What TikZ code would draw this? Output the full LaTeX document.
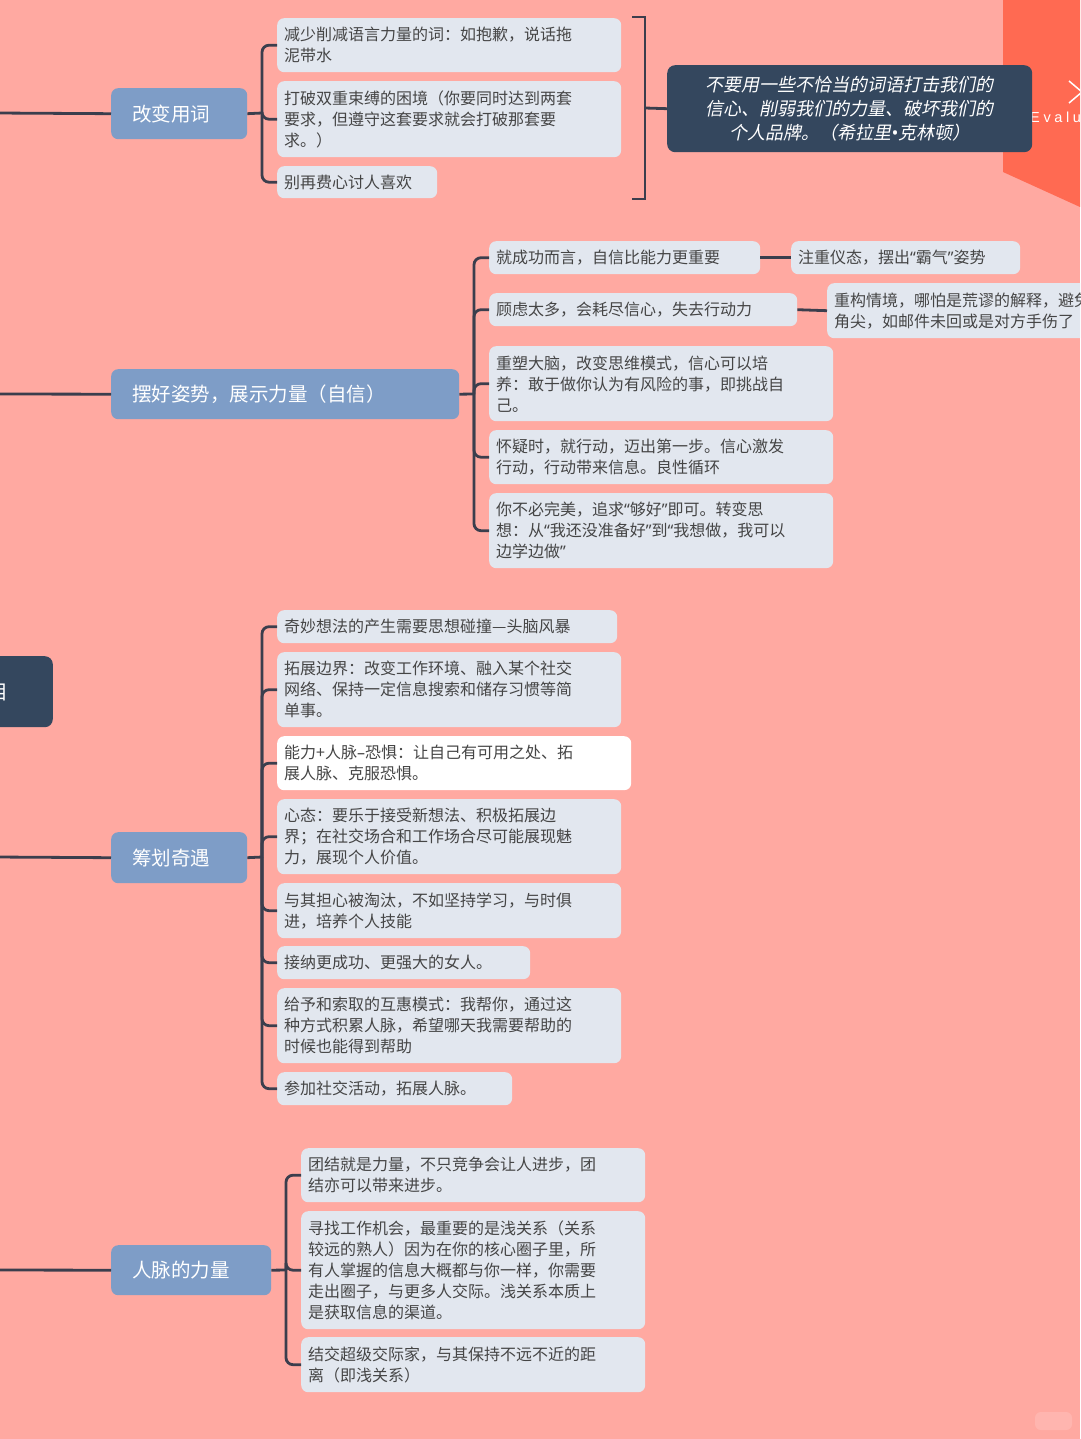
\documentclass[tikz,border=0pt]{standalone}
\usepackage{fontspec}
\setmainfont{Noto Sans CJK SC}
\newfontfamily\cjkit[FakeSlant=0.2]{Noto Sans CJK SC}
\newfontfamily\wmfont[LetterSpace=25]{Liberation Sans}
\newfontfamily\qfont{Noto Sans}
\newcommand{\oq}{{\qfont “}}
\newcommand{\cq}{{\qfont ”}}
\newcommand{\bdot}{{\qfont •}}
\definecolor{bgc}{HTML}{FFA9A1}
\definecolor{orc}{HTML}{FF6A52}
\definecolor{leafc}{HTML}{E2E7EF}
\definecolor{leaft}{HTML}{454545}
\definecolor{mainc}{HTML}{7E9DC7}
\definecolor{darkc}{HTML}{34475E}
\definecolor{linec}{HTML}{3B3E4D}
\tikzset{
  leaf/.style={fill=leafc, rounded corners=7pt, anchor=north west, align=left,
    inner xsep=7pt, inner ysep=3pt, text=leaft, font=\fontsize{16}{21}\selectfont},
  topic/.style={fill=mainc, rounded corners=7pt, anchor=north west, align=left,
    inner xsep=21pt, inner ysep=3pt, text=white, font=\fontsize{19.5}{24}\selectfont},
  conn/.style={draw=linec, line width=2.8pt, rounded corners=7pt},
}
\begin{document}
\begin{tikzpicture}[x=1pt,y=-1pt]
\path[use as bounding box] (0,0) rectangle (1080,1439);
\clip (0,0) rectangle (1080,1439);
\fill[bgc] (0,0) rectangle (1080,1439);
% top-right decoration
\fill[orc] (1003,0) -- (1080,0) -- (1080,207) -- (1003,172) -- cycle;
\draw[white, line width=1.5pt] (1069,81) -- (1095,103) (1069,103) -- (1095,81);
\node[anchor=base west, inner sep=0pt, text=white, font=\wmfont\fontsize{14.5}{16}\selectfont] (wm) at (1030,123) {Evaluation};
% faint badge bottom right
\fill[white, opacity=0.15, rounded corners=6pt] (1035,1412) rectangle (1072,1430);

% central node (clipped)
\node[fill=darkc, rounded corners=8pt, minimum width=160pt, minimum height=71pt, anchor=north east, inner sep=0pt] (center) at (53,656) {};
\node[text=white, font=\fontsize{20}{24}\selectfont, inner sep=0pt] (centertext) at (-2,692) {目};

% topics
\node[topic, text width=94pt, minimum height=51pt] (m1) at (111,88) {改变用词};
\node[topic, text width=306pt, minimum height=50pt] (m2) at (111,369) {摆好姿势，展示力量（自信）};
\node[topic, text width=94pt, minimum height=51pt] (m3) at (111,832) {筹划奇遇};
\node[topic, text width=118pt, minimum height=50pt] (m4) at (111,1245) {人脉的力量};

\coordinate (s1) at (-5,113);
\coordinate (s2) at (-5,394);
\coordinate (s3) at (-5,857);
\coordinate (s4) at (-5,1270);
\draw[conn] (s1) -- (m1.west);
\draw[conn] (s2) -- (m2.west);
\draw[conn] (s3) -- (m3.west);
\draw[conn] (s4) -- (m4.west);

% group 1
\node[leaf, text width=330pt, minimum height=54pt] (l1) at (277,18) {减少削减语言力量的词：如抱歉，说话拖\\泥带水};
\node[leaf, text width=330pt, minimum height=76pt] (l2) at (277,81) {打破双重束缚的困境（你要同时达到两套\\要求，但遵守这套要求就会打破那套要\\求。）};
\node[leaf, text width=146pt, minimum height=32pt] (l3) at (277,166) {别再费心讨人喜欢};
\coordinate (t1) at (262,113);
\draw[conn] (m1.east) -- (t1);
\draw[conn] (t1) |- (l1.west);
\draw[conn] (t1) |- (l2.west);
\draw[conn] (t1) |- (l3.west);

% summary bracket and quote
\coordinate (b1a) at (632,17);
\coordinate (b1b) at (645,17);
\coordinate (b1c) at (645,199);
\coordinate (b1d) at (632,199);
\coordinate (b1m) at (645,108);
\draw[draw=linec, line width=2.8pt] (b1a) -- (b1b) -- (b1c) -- (b1d);
\node[fill=darkc, rounded corners=8pt, anchor=north west, minimum width=365pt, minimum height=87pt,
  text width=335pt, align=center, inner xsep=15pt, inner ysep=3pt, text=white,
  font=\cjkit\fontsize{18}{24}\selectfont] (q) at (667,65)
  {不要用一些不恰当的词语打击我们的\\信心、削弱我们的力量、破坏我们的\\个人品牌。（希拉里{\qfont\itshape •}克林顿）};
\draw[draw=linec, line width=2.8pt] (b1m) -- (q.west);

% group 2
\node[leaf, text width=257pt, minimum height=33pt] (a1) at (489,241) {就成功而言，自信比能力更重要};
\node[leaf, text width=215pt, minimum height=33pt] (a1b) at (791,241) {注重仪态，摆出\oq 霸气\cq 姿势};
\node[leaf, text width=294pt, minimum height=33pt] (a2) at (489,293) {顾虑太多，会耗尽信心，失去行动力};
\node[leaf, text width=330pt, minimum height=55pt] (a2b) at (827,283) {重构情境，哪怕是荒谬的解释，避免钻牛\\角尖，如邮件未回或是对方手伤了};
\node[leaf, text width=330pt, minimum height=75pt] (a3) at (489,346) {重塑大脑，改变思维模式，信心可以培\\养：敢于做你认为有风险的事，即挑战自\\己。};
\node[leaf, text width=330pt, minimum height=54pt] (a4) at (489,430) {怀疑时，就行动，迈出第一步。信心激发\\行动，行动带来信息。良性循环};
\node[leaf, text width=330pt, minimum height=75pt] (a5) at (489,493) {你不必完美，追求\oq 够好\cq 即可。转变思\\想：从\oq 我还没准备好\cq 到\oq 我想做，我可以\\边学边做\cq};
\coordinate (t2) at (474,394);
\draw[conn] (m2.east) -- (t2);
\draw[conn] (t2) |- (a1.west);
\draw[conn] (t2) |- (a2.west);
\draw[conn] (t2) |- (a3.west);
\draw[conn] (t2) |- (a4.west);
\draw[conn] (t2) |- (a5.west);
\draw[conn] (a1.east) -- (a1b.west);
\draw[conn] (a2.east) -- (a2b.west);

% group 3
\node[leaf, text width=326pt, minimum height=33pt] (b1) at (277,610) {奇妙想法的产生需要思想碰撞—头脑风暴};
\node[leaf, text width=330pt, minimum height=75pt] (b2) at (277,652) {拓展边界：改变工作环境、融入某个社交\\网络、保持一定信息搜索和储存习惯等简\\单事。};
\node[leaf, fill=white, text width=340pt, minimum height=54pt] (b3) at (277,736) {能力+人脉{\qfont –}恐惧：让自己有可用之处、拓\\展人脉、克服恐惧。};
\node[leaf, text width=330pt, minimum height=75pt] (b4) at (277,799) {心态：要乐于接受新想法、积极拓展边\\界；在社交场合和工作场合尽可能展现魅\\力，展现个人价值。};
\node[leaf, text width=330pt, minimum height=55pt] (b5) at (277,883) {与其担心被淘汰，不如坚持学习，与时俱\\进，培养个人技能};
\node[leaf, text width=239pt, minimum height=33pt] (b6) at (277,946) {接纳更成功、更强大的女人。};
\node[leaf, text width=330pt, minimum height=75pt] (b7) at (277,988) {给予和索取的互惠模式：我帮你，通过这\\种方式积累人脉，希望哪天我需要帮助的\\时候也能得到帮助};
\node[leaf, text width=221pt, minimum height=33pt] (b8) at (277,1072) {参加社交活动，拓展人脉。};
\coordinate (t3) at (262,857);
\draw[conn] (m3.east) -- (t3);
\foreach \n in {b1,b2,b3,b4,b5,b6,b7,b8} { \draw[conn] (t3) |- (\n.west); }

% group 4
\node[leaf, text width=330pt, minimum height=54pt] (c1) at (301,1148) {团结就是力量，不只竞争会让人进步，团\\结亦可以带来进步。};
\node[leaf, text width=330pt, minimum height=118pt] (c2) at (301,1211) {寻找工作机会，最重要的是浅关系（关系\\较远的熟人）因为在你的核心圈子里，所\\有人掌握的信息大概都与你一样，你需要\\走出圈子，与更多人交际。浅关系本质上\\是获取信息的渠道。};
\node[leaf, text width=330pt, minimum height=55pt] (c3) at (301,1337) {结交超级交际家，与其保持不远不近的距\\离（即浅关系）};
\coordinate (t4) at (286,1270);
\draw[conn] (m4.east) -- (t4);
\draw[conn] (t4) |- (c1.west);
\draw[conn] (t4) |- (c2.west);
\draw[conn] (t4) |- (c3.west);
\end{tikzpicture}
\end{document}
